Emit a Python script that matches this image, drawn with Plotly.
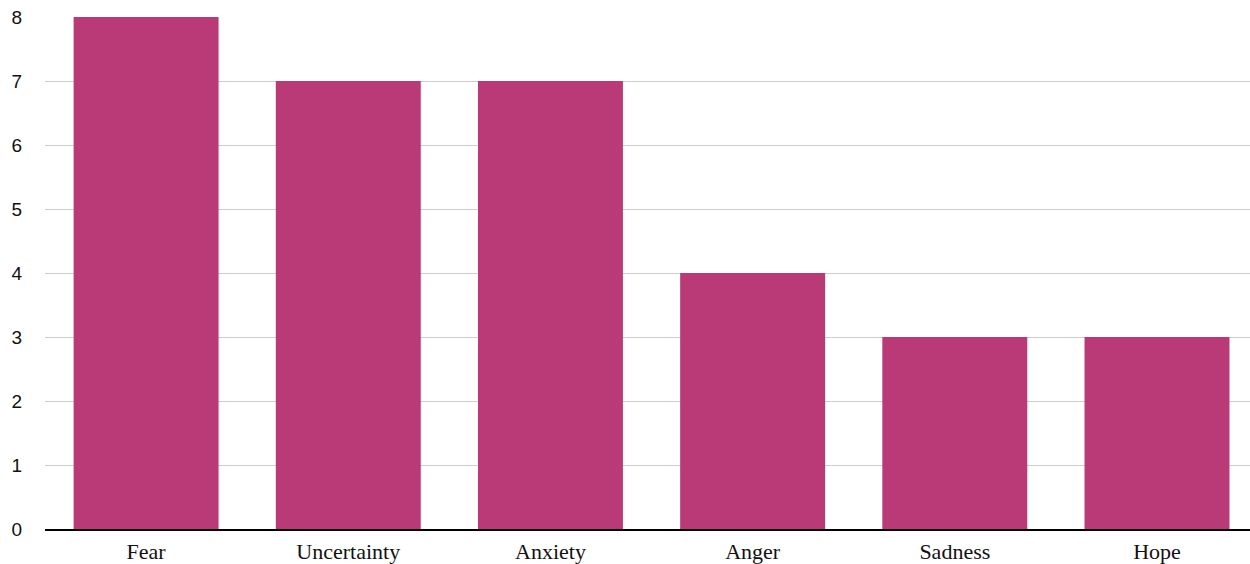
import plotly.graph_objects as go

categories = ["Fear", "Uncertainty", "Anxiety", "Anger", "Sadness", "Hope"]
values = [8, 7, 7, 4, 3, 3]
y_ticks = [0, 1, 2, 3, 4, 5, 6, 7, 8]

fig = go.Figure(go.Bar(x=categories, y=values, marker=dict(color="#BA3A77", line=dict(width=0))))

fig.update_layout(
    width=1250, height=564,
    margin=dict(l=45, r=0, t=17, b=33),
    plot_bgcolor="white", paper_bgcolor="white",
    bargap=0.283,
    showlegend=False,
)
fig.update_xaxes(
    range=[-0.5, 5.46],
    showgrid=False, showline=True, linecolor="black", linewidth=2,
    tickfont=dict(family="Liberation Serif", size=22, color="#111"),
    ticks="", ticklabelstandoff=2,
)
fig.update_yaxes(
    range=[0, 8], tickvals=y_ticks, showgrid=True, gridcolor="#CCCCCC", gridwidth=1,
    zeroline=False, showline=False,
    tickfont=dict(family="Liberation Sans", size=19, color="#111"),
    ticks="", ticklabelstandoff=22,
)

fig.write_html("out.html")
